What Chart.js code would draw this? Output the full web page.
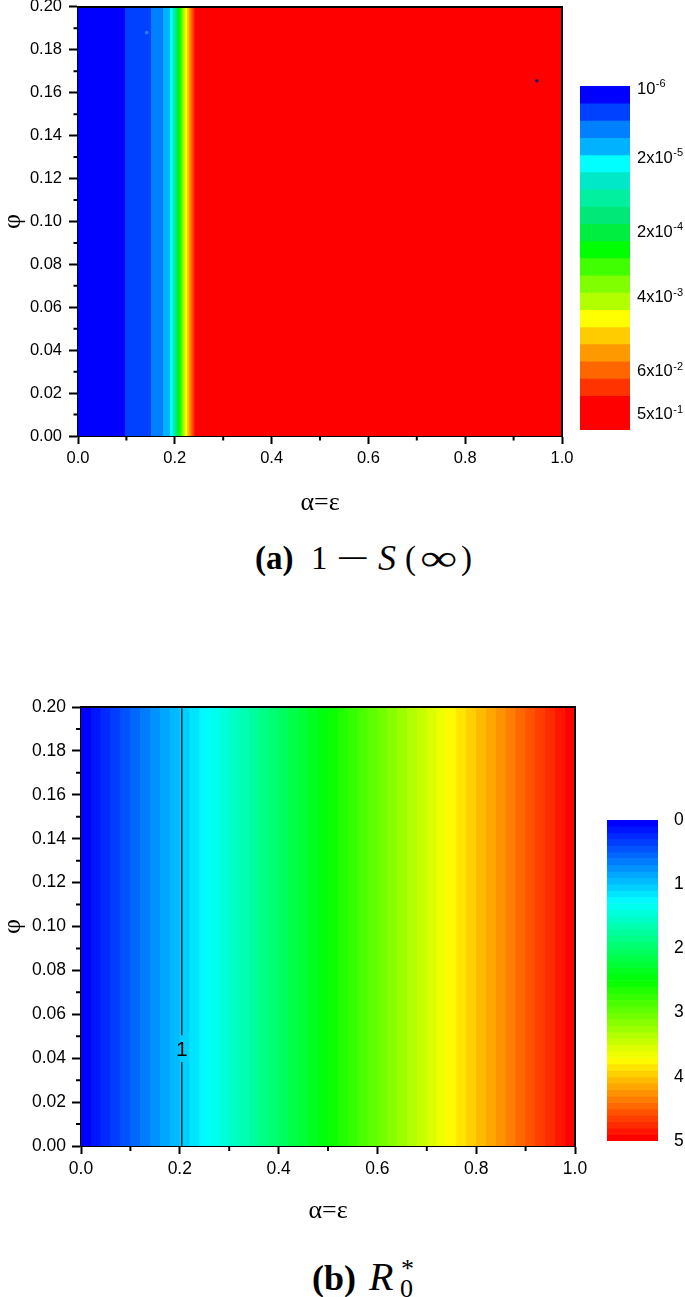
<!DOCTYPE html>
<html lang="en">
<head>
<meta charset="UTF-8">
<title>1 - S(inf) and R0* over alpha=epsilon and phi</title>
<script src="https://cdn.jsdelivr.net/npm/chart.js"></script>
<style>
  body { margin: 0; background: #fff; }
  #page { position: relative; width: 685px; height: 1297px; overflow: hidden; }
  #page canvas { position: absolute; }
  .g { position: absolute; line-height: 1; white-space: nowrap; color: #000;
       font-family: 'Liberation Serif', 'Times New Roman', serif; }
</style>
</head>
<body>
<div id="page">
  <canvas id="chartA" width="590" height="530" style="left:0;top:-10px"></canvas>
  <canvas id="barA" width="105" height="384" style="left:580px;top:66px"></canvas>

  <span class="g" style="left:255px;top:542px;font-size:33px;font-weight:bold">(a)</span>
  <span class="g" style="left:311px;top:542px;font-size:33px">1</span>
  <span class="g" style="left:336px;top:542px;font-size:33px;display:inline-block;transform:scaleX(1.8);transform-origin:left">&minus;</span>
  <span class="g" style="left:378px;top:540px;font-size:36px;font-style:italic">S</span>
  <span class="g" style="left:405px;top:542px;font-size:33px">(</span>
  <span class="g" style="left:420px;top:540px;font-size:36px;display:inline-block;transform:scaleX(1.45);transform-origin:left">&infin;</span>
  <span class="g" style="left:461px;top:542px;font-size:33px">)</span>

  <canvas id="chartB" width="600" height="540" style="left:0;top:690px"></canvas>
  <canvas id="barB" width="78" height="361" style="left:607px;top:800px"></canvas>

  <span class="g" style="left:312px;top:1260px;font-size:36px;font-weight:bold">(b)</span>
  <span class="g" style="left:369px;top:1257px;font-size:40px;font-style:italic">R</span>
  <span class="g" style="left:401px;top:1256px;font-size:26px">*</span>
  <span class="g" style="left:400px;top:1276px;font-size:26px">0</span>
</div>

<script>
// ---- (a) 1 - S(inf): contour levels are vertical bands along alpha=epsilon
// right edge of each level band (level 0 starts at alpha = 0)
const bandRightA = [0.097, 0.151, 0.176, 0.190, 0.196, 0.199, 0.202, 0.205, 0.208, 0.212,
                    0.215, 0.218, 0.221, 0.225, 0.229, 0.233, 0.237, 0.241, 0.246, 1.0];
// colour bar labels: mantissa part and exponent
const levelLabelsA = [['10', '-6'], ['2x10', '-5'], ['2x10', '-4'], ['4x10', '-3'], ['6x10', '-2'], ['5x10', '-1']];
const levelLabelPosA = [0.2, 4.2, 8.5, 12.3, 16.6, 19.1];
// two isolated specks inside the map
const speckX = [0.142, 0.948];
const speckY = [0.188, 0.1656];

// ---- (b) R0*: one stripe per 0.1 of R0
const stripeRightB = [0.02, 0.04, 0.06, 0.08, 0.10, 0.12, 0.14, 0.16, 0.18, 0.20,
                      0.22, 0.24, 0.26, 0.28, 0.30, 0.32, 0.34, 0.36, 0.38, 0.40,
                      0.42, 0.44, 0.46, 0.48, 0.50, 0.52, 0.54, 0.56, 0.58, 0.60,
                      0.62, 0.64, 0.66, 0.68, 0.70, 0.72, 0.74, 0.76, 0.78, 0.80,
                      0.82, 0.84, 0.86, 0.88, 0.90, 0.92, 0.94, 0.96, 0.98, 1.00];
const r0LevelB = [0.0, 0.1, 0.2, 0.3, 0.4, 0.5, 0.6, 0.7, 0.8, 0.9,
                  1.0, 1.1, 1.2, 1.3, 1.4, 1.5, 1.6, 1.7, 1.8, 1.9,
                  2.0, 2.1, 2.2, 2.3, 2.4, 2.5, 2.6, 2.7, 2.8, 2.9,
                  3.0, 3.1, 3.2, 3.3, 3.4, 3.5, 3.6, 3.7, 3.8, 3.9,
                  4.0, 4.1, 4.2, 4.3, 4.4, 4.5, 4.6, 4.7, 4.8, 4.9];
// the R0* = 1 contour line, broken where its label sits
const contourLevelB = 1;
const contourXB = 0.204;
const contourGapB = [0.0383, 0.0504];
const contourLabelYB = 0.0436;

// ---- colours
const levelColorsA = ['#0000FF', '#0040FF', '#0080FF', '#00B2FF', '#00FFFF', '#00E8C8', '#00F0A0',
                      '#00E878', '#00EE40', '#00FF00', '#40FF00', '#80FF00', '#B2FF00', '#FFFF00',
                      '#FFCC00', '#FF9900', '#FF6600', '#FF3300', '#FF0000', '#FF0000'];
const rainbowStops = [[0, 0, 0, 255], [0.25, 0, 255, 255], [0.5, 0, 255, 0], [0.75, 255, 255, 0], [1, 255, 0, 0]];
function rainbow(t) {
  for (let i = 1; i < rainbowStops.length; i++) {
    const a = rainbowStops[i - 1], b = rainbowStops[i];
    if (t <= b[0]) {
      const f = (t - a[0]) / (b[0] - a[0]);
      const c = [1, 2, 3].map(k => Math.round(a[k] + (b[k] - a[k]) * f));
      return `rgb(${c[0]},${c[1]},${c[2]})`;
    }
  }
  return 'rgb(255,0,0)';
}
const r0Max = r0LevelB[r0LevelB.length - 1];

const sans = "'Liberation Sans', Arial, sans-serif";
const serif = "'Liberation Serif', 'Times New Roman', serif";

// minor ticks halfway between the major ones
const minorTicks = {
  id: 'minorTicks',
  afterDraw(chart, args, opts) {
    const ctx = chart.ctx, xs = chart.scales.x, ys = chart.scales.y;
    ctx.save();
    ctx.strokeStyle = '#000';
    ctx.lineWidth = 2;
    ctx.beginPath();
    const xt = xs.ticks.map(t => t.value), yt = ys.ticks.map(t => t.value);
    for (let i = 0; i < xt.length - 1; i++) {
      const px = xs.getPixelForValue((xt[i] + xt[i + 1]) / 2);
      ctx.moveTo(px, xs.top);
      ctx.lineTo(px, xs.top + opts.length);
    }
    for (let i = 0; i < yt.length - 1; i++) {
      const py = ys.getPixelForValue((yt[i] + yt[i + 1]) / 2);
      ctx.moveTo(ys.right, py);
      ctx.lineTo(ys.right - opts.length, py);
    }
    ctx.stroke();
    ctx.restore();
  }
};

// top and right edges of the plot box
const frame = {
  id: 'frame',
  afterDraw(chart) {
    const {ctx, chartArea: a} = chart;
    ctx.save();
    ctx.strokeStyle = '#000';
    ctx.lineWidth = 2;
    ctx.beginPath();
    ctx.moveTo(a.left, a.top);
    ctx.lineTo(a.right, a.top);
    ctx.lineTo(a.right, a.bottom);
    ctx.stroke();
    ctx.restore();
  }
};

// text label on a contour line
const contourLabel = {
  id: 'contourLabel',
  afterDatasetsDraw(chart, args, opts) {
    if (!opts.text) return;
    const ctx = chart.ctx;
    ctx.save();
    ctx.fillStyle = '#000';
    ctx.font = `21px ${sans}`;
    ctx.textAlign = 'center';
    ctx.textBaseline = 'middle';
    ctx.fillText(opts.text, chart.scales.x.getPixelForValue(opts.x), chart.scales.y.getPixelForValue(opts.y));
    ctx.restore();
  }
};

// colour bar labels of the form 2x10^-5, exponent raised
const powerLabels = {
  id: 'powerLabels',
  afterDraw(chart, args, opts) {
    const ctx = chart.ctx, ys = chart.scales.y;
    const x0 = chart.chartArea.right + opts.padding;
    ctx.save();
    ctx.fillStyle = '#000';
    ctx.textAlign = 'left';
    ctx.textBaseline = 'middle';
    opts.positions.forEach((v, i) => {
      const [base, exp] = opts.labels[i];
      const y = ys.getPixelForValue(v);
      ctx.font = `${opts.size}px ${sans}`;
      ctx.fillText(base, x0, y);
      const w = ctx.measureText(base).width;
      ctx.font = `${opts.expSize}px ${sans}`;
      ctx.fillText(exp, x0 + w + 0.5, y - opts.raise);
    });
    ctx.restore();
  }
};

function xAxis(fontSize, tickLen, titlePad, height) {
  return {
    type: 'linear', min: 0, max: 1, offset: false,
    border: { display: true, color: '#000', width: 2 },
    grid: { drawOnChartArea: false, drawTicks: true, tickLength: tickLen, tickWidth: 2, tickColor: '#000' },
    ticks: { stepSize: 0.2, color: '#000', padding: 5, maxRotation: 0,
             font: { family: sans, size: fontSize }, callback: v => v.toFixed(1) },
    title: { display: true, text: 'α=ε', color: '#000',
             font: { family: serif, size: 26, lineHeight: 1 }, padding: { top: 0, bottom: titlePad } },
    afterFit(s) { s.height = height; }
  };
}
function yAxis(fontSize, tickLen, pad, width) {
  return {
    type: 'linear', min: 0, max: 0.2,
    border: { display: true, color: '#000', width: 2 },
    grid: { drawOnChartArea: false, drawTicks: true, tickLength: tickLen, tickWidth: 2, tickColor: '#000' },
    ticks: { stepSize: 0.02, color: '#000', padding: pad,
             font: { family: sans, size: fontSize }, callback: v => v.toFixed(2) },
    title: { display: true, text: 'φ', color: '#000',
             font: { family: serif, size: 26, lineHeight: 1 }, padding: { top: 0, bottom: 0 } },
    afterFit(s) { s.width = width; }
  };
}
function bandSet(xRight, color) {
  return {
    data: [{x: 0, y: 0.2}, {x: xRight, y: 0.2}],
    fill: 'origin', backgroundColor: color, borderColor: 'rgba(0,0,0,0)', borderWidth: 0,
    pointRadius: 0, pointHoverRadius: 0
  };
}

// ---------------- chart (a)
const specks = {
  data: speckX.map((x, i) => ({x, y: speckY[i]})),
  showLine: false, pointRadius: 1.8, pointBorderWidth: 0,
  pointBackgroundColor: ['#2a7cff', '#1c1c5a']
};
new Chart(document.getElementById('chartA'), {
  type: 'line',
  data: { datasets: [specks, ...bandRightA.map((r, i) => bandSet(r, levelColorsA[i]))] },
  options: {
    responsive: false, animation: false, events: [],
    layout: { padding: { top: 16, right: 28, left: 0, bottom: 0 } },
    plugins: { legend: { display: false }, tooltip: { enabled: false }, minorTicks: { length: 4.5 } },
    scales: { x: xAxis(16.5, 8, 4, 84), y: yAxis(16.5, 9, 7, 78) }
  },
  plugins: [minorTicks, frame]
});

new Chart(document.getElementById('barA'), {
  type: 'bar',
  data: {
    labels: [''],
    datasets: levelColorsA.map((c, k) => ({
      data: [[k, k + 1]], backgroundColor: c, borderWidth: 0,
      grouped: false, barPercentage: 1, categoryPercentage: 1
    }))
  },
  options: {
    responsive: false, animation: false, events: [],
    layout: { padding: { top: 20, bottom: 20, left: 0, right: 0 } },
    plugins: {
      legend: { display: false }, tooltip: { enabled: false },
      powerLabels: { positions: levelLabelPosA, labels: levelLabelsA, padding: 7, size: 16.5, expSize: 11, raise: 5 }
    },
    scales: {
      x: { display: false },
      y: {
        position: 'right', min: 0, max: levelColorsA.length, reverse: true,
        grid: { display: false }, border: { display: false }, ticks: { display: false },
        afterFit(s) { s.width = 55; }
      }
    }
  },
  plugins: [powerLabels]
});

// ---------------- chart (b)
const contourSets = [[0, contourGapB[0]], [contourGapB[1], 0.2]].map(([y0, y1]) => ({
  data: [{x: contourXB, y: y0}, {x: contourXB, y: y1}],
  borderColor: '#111', borderWidth: 1.3, pointRadius: 0, fill: false
}));
new Chart(document.getElementById('chartB'), {
  type: 'line',
  data: { datasets: [...contourSets, ...stripeRightB.map((r, i) => bandSet(r, rainbow(r0LevelB[i] / r0Max)))] },
  options: {
    responsive: false, animation: false, events: [],
    layout: { padding: { top: 17, right: 25, left: 0, bottom: 0 } },
    plugins: {
      legend: { display: false }, tooltip: { enabled: false }, minorTicks: { length: 5 },
      contourLabel: { text: String(contourLevelB), x: contourXB, y: contourLabelYB }
    },
    scales: { x: xAxis(17.5, 8, 6, 84), y: yAxis(17.5, 9, 6, 81) }
  },
  plugins: [minorTicks, frame, contourLabel]
});

new Chart(document.getElementById('barB'), {
  type: 'bar',
  data: {
    labels: [''],
    datasets: r0LevelB.map(v => ({
      data: [[v, v + 0.1]], backgroundColor: rainbow(v / r0Max), borderWidth: 0,
      grouped: false, barPercentage: 1, categoryPercentage: 1
    }))
  },
  options: {
    responsive: false, animation: false, events: [],
    layout: { padding: { top: 20, bottom: 20, left: 0, right: 0 } },
    plugins: { legend: { display: false }, tooltip: { enabled: false } },
    scales: {
      x: { display: false },
      y: {
        position: 'right', min: 0, max: 5, reverse: true,
        grid: { display: false }, border: { display: false },
        ticks: { stepSize: 1, padding: 8, color: '#000', font: { family: sans, size: 17.5 } },
        afterFit(s) { s.width = 27; }
      }
    }
  }
});
</script>
</body>
</html>
